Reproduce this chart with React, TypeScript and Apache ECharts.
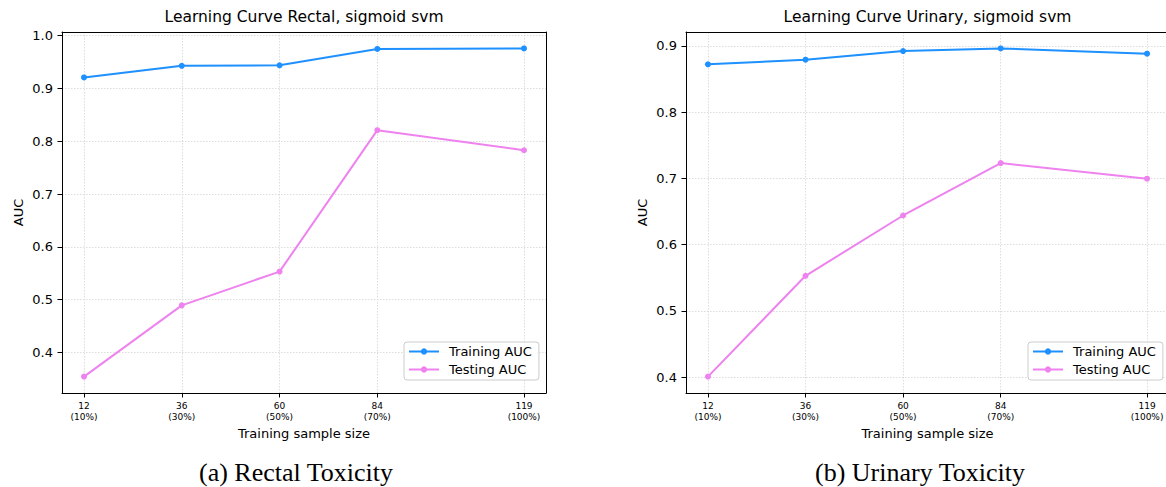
import React, { useEffect, useRef } from 'react';
import * as echarts from 'echarts';

// ---- data ----
const sampleSizeLabels = [12, 36, 60, 84, 119];
const percentLabels = ['10%', '30%', '50%', '70%', '100%'];
const trainFractions = [0.1, 0.3, 0.5, 0.7, 1.0];
const totalSamples = 119;

const rectalTraining = [0.921, 0.943, 0.944, 0.975, 0.976];
const rectalTesting = [0.354, 0.489, 0.553, 0.821, 0.783];
const urinaryTraining = [0.872, 0.879, 0.892, 0.896, 0.888];
const urinaryTesting = [0.401, 0.553, 0.644, 0.723, 0.6995];

const rectalYTicks = [0.4, 0.5, 0.6, 0.7, 0.8, 0.9, 1.0];
const urinaryYTicks = [0.4, 0.5, 0.6, 0.7, 0.8, 0.9];

const titles = ['Learning Curve Rectal, sigmoid svm', 'Learning Curve Urinary, sigmoid svm'];
const captions = ['(a) Rectal Toxicity', '(b) Urinary Toxicity'];
const seriesNames = ['Training AUC', 'Testing AUC'];

const FONT = 'DejaVu Sans';
const TRAIN_COLOR = '#1E90FF';
const TEST_COLOR = '#EE82EE';

const xs = trainFractions.map((f) => f * totalSamples);

function pad(min: number, max: number) {
  const r = max - min;
  return [min - 0.05 * r, max + 0.05 * r];
}

const xRange = pad(Math.min(...xs), Math.max(...xs));

function xLabel(v: number) {
  let best = 0;
  xs.forEach((x, i) => {
    if (Math.abs(x - v) < Math.abs(xs[best] - v)) best = i;
  });
  return `${sampleSizeLabels[best]}\n(${percentLabels[best]})`;
}

export default function App() {
  const ref = useRef<HTMLDivElement>(null);
  useEffect(() => {
    if (!ref.current) return;
    const chart = echarts.init(ref.current, undefined, { renderer: 'svg' });

    const grids: any[] = [
      { left: 62, top: 32, width: 484, height: 361 },
      { left: 686, top: 32, width: 483, height: 361 },
    ];
    const datasets = [
      { train: rectalTraining, test: rectalTesting, ticks: rectalYTicks },
      { train: urinaryTraining, test: urinaryTesting, ticks: urinaryYTicks },
    ];

    const splitLine = { show: true, lineStyle: { color: '#d4d4d4', width: 0.8, type: [1.5, 1.5] as any } };
    const axisLine = { show: true, lineStyle: { color: '#000', width: 1 } };

    const xAxes: any[] = grids.map((_, i) => ({
      type: 'value',
      gridIndex: i,
      min: xRange[0],
      max: xRange[1],
      name: 'Training sample size',
      nameLocation: 'middle',
      nameGap: 33,
      nameTextStyle: { fontFamily: FONT, fontSize: 13, color: '#000' },
      axisLine,
      axisTick: { show: true, inside: false, length: 4.5, customValues: xs, lineStyle: { color: '#000' } },
      axisLabel: {
        customValues: xs,
        formatter: (v: number) => xLabel(v),
        fontFamily: FONT,
        fontSize: 9,
        lineHeight: 11,
        color: '#000',
        margin: 7,
      },
      splitLine,
    }));
    // top frame line of each panel
    grids.forEach((_, i) => {
      xAxes.push({
        type: 'value',
        gridIndex: i,
        position: 'top',
        min: xRange[0],
        max: xRange[1],
        axisLine,
        axisTick: { show: false },
        axisLabel: { show: false },
        splitLine: { show: false },
      });
    });

    const yAxes: any[] = datasets.map((d, i) => {
      const all = [...d.train, ...d.test];
      const r = pad(Math.min(...all), Math.max(...all));
      return {
        type: 'value',
        gridIndex: i,
        min: r[0],
        max: r[1],
        name: 'AUC',
        nameLocation: 'middle',
        nameRotate: 90,
        nameGap: 37,
        nameTextStyle: { fontFamily: FONT, fontSize: 13, color: '#000' },
        axisLine,
        axisTick: { show: true, inside: false, length: 4.5, customValues: d.ticks, lineStyle: { color: '#000' } },
        axisLabel: {
          customValues: d.ticks,
          formatter: (v: number) => v.toFixed(1),
          fontFamily: FONT,
          fontSize: 13,
          color: '#000',
          margin: 9,
        },
        splitLine,
      };
    });
    // right frame line (left panel only; the right panel is cut by the image edge)
    {
      const all = [...rectalTraining, ...rectalTesting];
      const r = pad(Math.min(...all), Math.max(...all));
      yAxes.push({
        type: 'value',
        gridIndex: 0,
        position: 'right',
        min: r[0],
        max: r[1],
        axisLine,
        axisTick: { show: false },
        axisLabel: { show: false },
        splitLine: { show: false },
      });
    }

    const series: any[] = [];
    datasets.forEach((d, i) => {
      [d.train, d.test].forEach((vals, k) => {
        series.push({
          type: 'line',
          name: seriesNames[k],
          xAxisIndex: i,
          yAxisIndex: i,
          data: vals.map((v, j) => [xs[j], v]),
          symbol: 'circle',
          symbolSize: 6,
          lineStyle: { width: 2, color: k === 0 ? TRAIN_COLOR : TEST_COLOR },
          itemStyle: { color: k === 0 ? TRAIN_COLOR : TEST_COLOR },
          emphasis: { disabled: true },
        });
      });
    });

    const legendLefts = [404, 1028];
    const legends = legendLefts.map((l) => ({
      left: l,
      top: 342,
      orient: 'vertical',
      data: seriesNames,
      itemWidth: 30,
      itemHeight: 8,
      itemGap: 5,
      padding: [3, 7, 4, 4],
      backgroundColor: 'rgba(255,255,255,0.85)',
      borderColor: '#cccccc',
      borderWidth: 1,
      borderRadius: 3,
      textStyle: { fontFamily: FONT, fontSize: 13, color: '#000', padding: [0, 0, 0, 5] },
      selectedMode: false,
    }));

    const titleCenters = [304, 927.5];
    const captionCenters = [296, 920];
    const graphic: any[] = [];
    titles.forEach((t, i) => {
      graphic.push({
        type: 'text',
        x: titleCenters[i],
        y: 17,
        style: { text: t, fontFamily: FONT, fontSize: 15.5, fill: '#000', align: 'center', verticalAlign: 'middle' },
      });
    });
    captions.forEach((t, i) => {
      graphic.push({
        type: 'text',
        x: captionCenters[i],
        y: 472.5,
        style: { text: t, fontFamily: 'Liberation Serif', fontSize: 26, fill: '#000', align: 'center', verticalAlign: 'middle' },
      });
    });

    chart.setOption({
      animation: false,
      backgroundColor: '#fff',
      grid: grids.map((g) => ({
        ...g,
        outerBoundsMode: 'none',
        containLabel: false,
        show: false,
      })),
      xAxis: xAxes,
      yAxis: yAxes,
      legend: legends,
      series,
      graphic,
    });
    return () => chart.dispose();
  }, []);
  return (
    <div style={{ position: 'absolute', left: 0, top: 0, width: 1166, height: 487, overflow: 'hidden', background: '#fff' }}>
      <div ref={ref} style={{ position: 'absolute', left: 0, top: 0, width: 1220, height: 487 }} />
    </div>
  );
}
